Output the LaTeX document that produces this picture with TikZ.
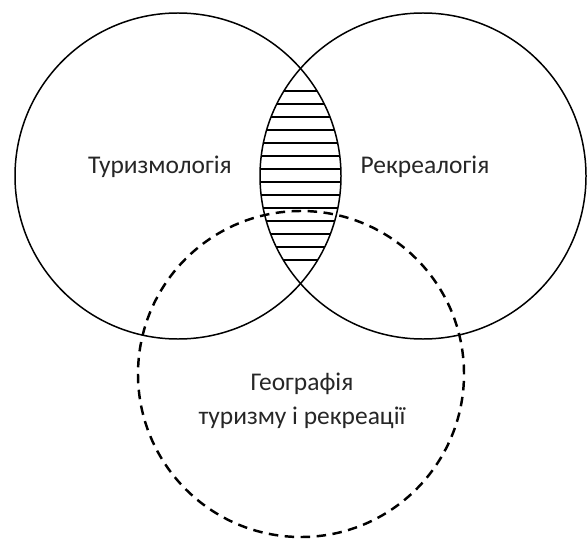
\documentclass[tikz,border=0pt]{standalone}
\usepackage{fontspec}
\setmainfont{Carlito}
\usetikzlibrary{positioning}

\begin{document}
\begin{tikzpicture}[
    x=0.02cm, y=0.02cm,
    setline/.style={draw=black, line width=0.85pt},
    dashset/.style={draw=black, line width=1.4pt, dash pattern=on 0.19cm off 0.13cm},
    hatch/.style={draw=black, line width=0.8pt},
    label/.style={align=center, font=\fontsize{14.5}{19}\selectfont, text=black!85}
]
    \useasboundingbox (0,0) rectangle (587,538);

    % ================= SETS =================
    \coordinate (cT) at (178,362);
    \coordinate (cR) at (423,362);
    \coordinate (cG) at (301,164);

    % ================= HATCHED OVERLAP =================
    \begin{scope}
        \clip (cT) circle (163);
        \clip (cR) circle (163);
        \foreach \k in {0,...,13}
            \draw[hatch] (240,447-13*\k) -- (360,447-13*\k);
    \end{scope}

    \draw[setline] (cT) circle (163);
    \draw[setline] (cR) circle (163);
    \draw[dashset] (cG) circle (163);

    % ================= LABELS =================
    \node[label] (tur) at (160,371) {Туризмологія};
    \node[label] (rek) at (425,371) {Рекреалогія};
    \node[label] (geo) at (302,137) {Географія\\туризму і рекреації};

\end{tikzpicture}
\end{document}
